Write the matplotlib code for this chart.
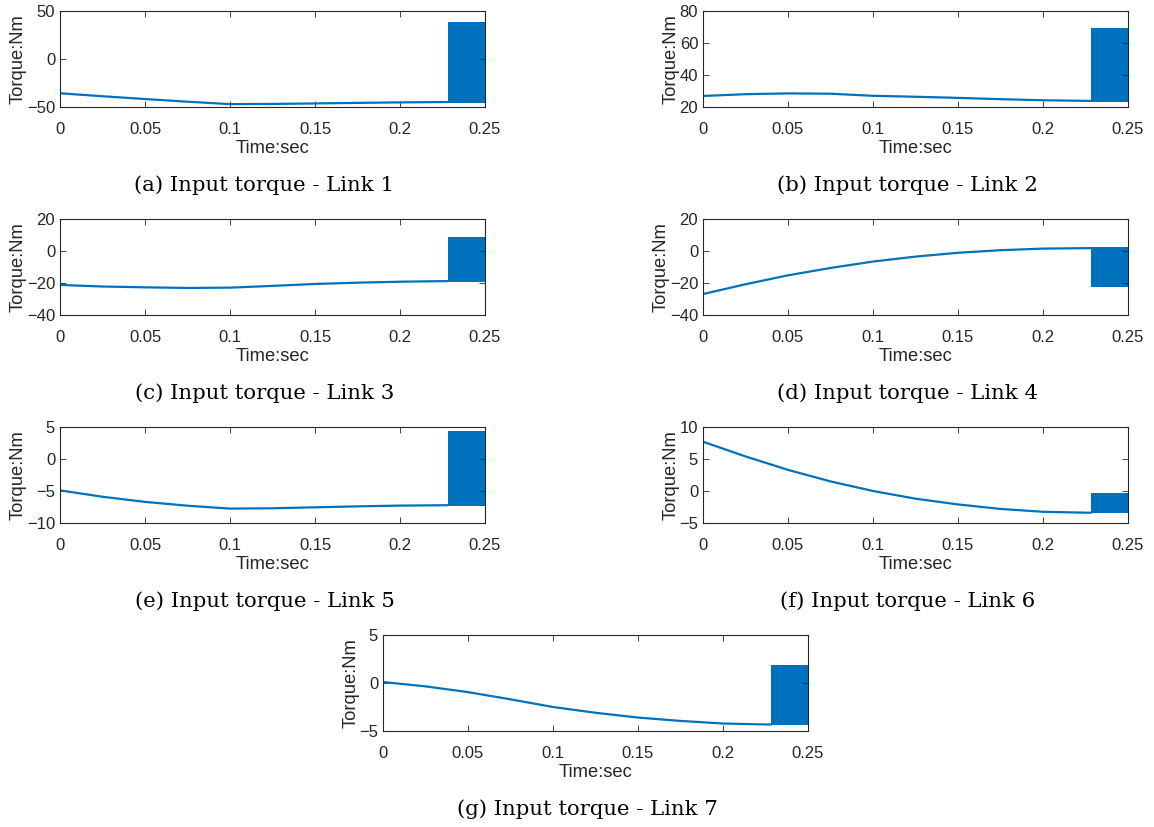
#!/usr/bin/env python3

'''
plot.py

Input torque of the seven links, with the chattering at the end of the run.
'''

import matplotlib
matplotlib.use('Agg')
import matplotlib.pyplot as plt

# sample times of the smooth part (sec)
t = [0.0, 0.025, 0.05, 0.075, 0.1, 0.125, 0.15, 0.175, 0.2, 0.228]

# torque per link (Nm)
link1 = [-35.7, -38.8, -41.7, -44.5, -47.0, -46.8, -46.3, -45.7, -45.2, -44.8]
link2 = [26.9, 28.0, 28.5, 28.3, 27.0, 26.4, 25.7, 24.9, 24.2, 23.8]
link3 = [-21.2, -22.2, -22.7, -23.1, -22.9, -21.8, -20.6, -19.8, -19.2, -18.8]
link4 = [-26.9, -20.8, -15.2, -10.6, -6.6, -3.5, -1.1, 0.5, 1.5, 1.8]
link5 = [-4.9, -5.9, -6.7, -7.3, -7.75, -7.7, -7.55, -7.4, -7.28, -7.22]
link6 = [7.7, 5.4, 3.3, 1.5, 0.0, -1.2, -2.1, -2.8, -3.25, -3.4]
link7 = [0.1, -0.35, -0.95, -1.7, -2.5, -3.1, -3.6, -3.95, -4.22, -4.33]

# chattering band at the end
band_t = [0.228, 0.25]
band_lo = [-46.0, 23.4, -19.5, -22.3, -7.4, -3.5, -4.4]
band_hi = [38.5, 69.6, 8.5, 2.7, 4.4, -0.25, 1.9]

ylims = [(-50, 50), (20, 80), (-40, 20), (-40, 20), (-10, 5), (-5, 10), (-5, 5)]
yticks = [[-50, 0, 50], [20, 40, 60, 80], [-40, -20, 0, 20], [-40, -20, 0, 20],
          [-10, -5, 0, 5], [-5, 0, 5, 10], [-5, 0, 5]]
xticks = [0, 0.05, 0.1, 0.15, 0.2, 0.25]
xticklabels = ['0', '0.05', '0.1', '0.15', '0.2', '0.25']
captions = ['(a) Input torque - Link 1', '(b) Input torque - Link 2',
            '(c) Input torque - Link 3', '(d) Input torque - Link 4',
            '(e) Input torque - Link 5', '(f) Input torque - Link 6',
            '(g) Input torque - Link 7']

BLUE = '#0072BD'
DARK = '#262626'
W, H = 1154, 827

# axes boxes in pixels: left, top
boxes = [(60, 11), (703, 11), (60, 219), (703, 219),
         (60, 427), (703, 427), (383, 635)]
AW, AH = 425, 96


def main():
    plt.rcParams['font.family'] = ['Liberation Sans', 'DejaVu Sans']
    fig = plt.figure(figsize=(W / 100, H / 100), dpi=100)
    series = [link1, link2, link3, link4, link5, link6, link7]

    for i, y in enumerate(series):
        left, top = boxes[i]
        ax = fig.add_axes([left / W, 1 - (top + AH) / H, AW / W, AH / H])
        ax.plot(t, y, color=BLUE, lw=1.6)
        ax.fill_between(band_t, [band_lo[i]] * 2, [band_hi[i]] * 2,
                        color=BLUE, lw=0)
        ax.set_xlim(0, 0.25)
        ax.set_ylim(*ylims[i])
        ax.set_xticks(xticks)
        ax.set_xticklabels(xticklabels)
        ax.set_yticks(yticks[i])
        ax.tick_params(direction='in', length=4, width=0.6, colors=DARK,
                       labelsize=12, top=True, right=True)
        ax.tick_params(axis='x', pad=10.5)
        ax.tick_params(axis='y', pad=3.5)
        for s in ax.spines.values():
            s.set_color(DARK)
            s.set_linewidth(0.8)
        ax.set_xlabel('Time:sec', fontsize=13.2, color=DARK, labelpad=2.5)
        ax.set_ylabel('Torque:Nm', fontsize=13.2, color=DARK, labelpad=0)

        cx = left + AW / 2 - 8
        cy = top + AH + 78
        fig.text(cx / W, 1 - cy / H, captions[i], ha='center', va='center',
                 fontsize=15.3, family='DejaVu Serif', color='black')

    fig.savefig('out.png', dpi=100)


if __name__ == '__main__':
    main()
